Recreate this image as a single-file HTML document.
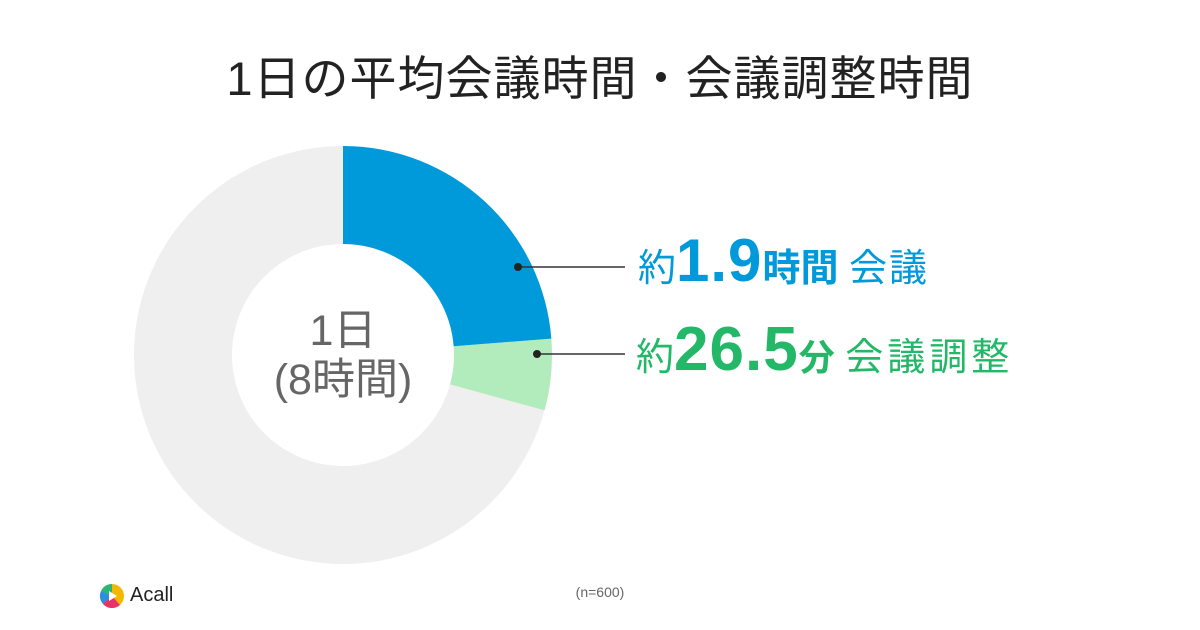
<!DOCTYPE html>
<html><head><meta charset="utf-8"><style>
body{margin:0;width:1200px;height:630px;background:#fff;overflow:hidden;font-family:"Liberation Sans","Noto Sans CJK JP",sans-serif;position:relative}
.t{position:absolute;white-space:nowrap}
</style></head><body>
<div class="t" style="left:0;width:1200px;text-align:center;top:40px;font-size:47px;color:#222;letter-spacing:1px">1日の平均会議時間・会議調整時間</div>
<svg id="chart" width="1200" height="630" style="position:absolute;left:0;top:0">
<text x="343" y="345" text-anchor="middle" font-size="43" fill="#666" font-family="Liberation Sans, Noto Sans CJK JP, sans-serif">1日</text>
<text x="343" y="394" text-anchor="middle" font-size="43" fill="#666" font-family="Liberation Sans, Noto Sans CJK JP, sans-serif">(8時間)</text>
<line x1="518" y1="267" x2="625" y2="267" stroke="#333" stroke-width="1.5"/>
<circle cx="518" cy="267" r="4" fill="#222"/>
<line x1="537" y1="354" x2="625" y2="354" stroke="#333" stroke-width="1.5"/>
<circle cx="537" cy="354" r="4" fill="#222"/>
</svg>
<div class="t" style="left:638px;top:226px;color:#0099d9;font-size:38px">約<b style="font-size:60px;letter-spacing:1px">1.9</b><b style="font-size:38px">時間</b> <span style="letter-spacing:2px">会議</span></div>
<div class="t" style="left:636px;top:314px;color:#22b867;font-size:38px">約<b style="font-size:62px;letter-spacing:1px">26.5</b><b style="font-size:36px">分</b> <span style="letter-spacing:4px">会議調整</span></div>
<div class="t" style="left:0;width:1200px;text-align:center;top:584px;font-size:14px;color:#666">(n=600)</div>
<div style="position:absolute;left:98px;top:582px">
<svg width="30" height="28"><circle cx="14" cy="14" r="12" fill="#f5b800"/><path d="M14 14 L14 2 A12 12 0 0 0 3 9Z" fill="#2bb673"/><path d="M14 14 L3 9 A12 12 0 0 0 5 22Z" fill="#2a8fe0"/><path d="M14 14 L5 22 A12 12 0 0 0 22 23Z" fill="#e8336a"/><path d="M11 9 L19 14 L11 19Z" fill="#fff"/></svg>
<span class="t" style="left:32px;top:2px;font-size:20px;color:#222">Acall</span></div>
<script>
const categories=["会議","会議調整","その他"];
const values=[1.9*60,26.5,480-1.9*60-26.5];
const colors=["#0099d9","#b3ecbc","#efefef"];
const svg=document.getElementById('chart');
const cx=343,cy=355,R=209,r=111,total=values.reduce((a,b)=>a+b,0);
function pt(a,rad){return [cx+rad*Math.sin(a),cy-rad*Math.cos(a)];}
let acc=0;
values.forEach((v,i)=>{
 const a0=acc/total*2*Math.PI,a1=(acc+v)/total*2*Math.PI;acc+=v;
 const lg=(a1-a0)>Math.PI?1:0;
 const [x0,y0]=pt(a0,R),[x1,y1]=pt(a1,R),[x2,y2]=pt(a1,r),[x3,y3]=pt(a0,r);
 const p=document.createElementNS('http://www.w3.org/2000/svg','path');
 p.setAttribute('d',`M${x0} ${y0}A${R} ${R} 0 ${lg} 1 ${x1} ${y1}L${x2} ${y2}A${r} ${r} 0 ${lg} 0 ${x3} ${y3}Z`);
 p.setAttribute('fill',colors[i]);
 
 
 svg.insertBefore(p,svg.firstChild);
});
</script>
</body></html>
